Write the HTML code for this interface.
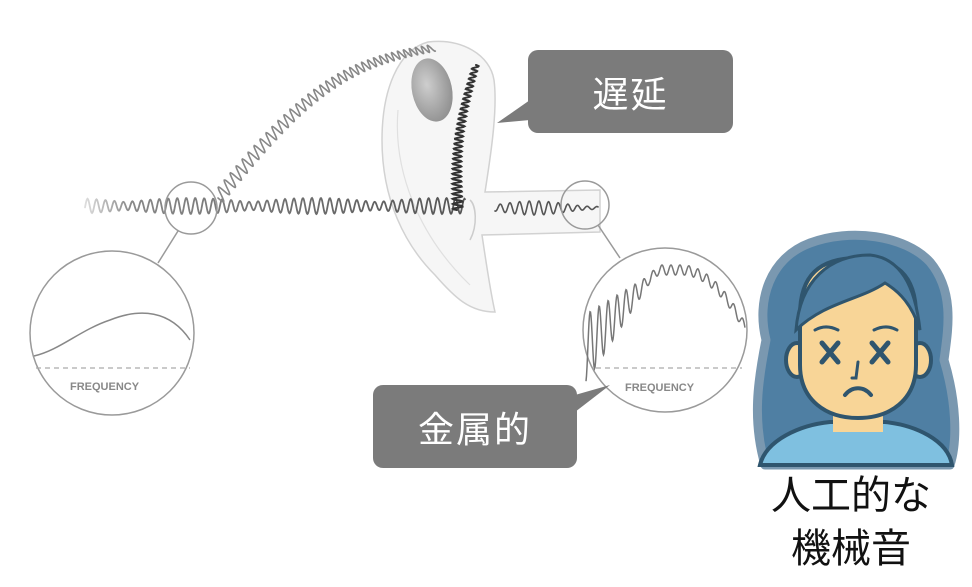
<!DOCTYPE html>
<html><head><meta charset="utf-8">
<style>
html,body{margin:0;padding:0;background:#fff;}
body{width:972px;height:587px;overflow:hidden;position:relative;font-family:"Liberation Sans","Noto Sans CJK JP",sans-serif;}
.box{position:absolute;background:#7b7b7b;border-radius:10px;color:#fff;font-size:36px;display:flex;align-items:center;justify-content:center;letter-spacing:2px;}
.cap{position:absolute;left:748px;width:206px;text-align:center;font-size:40px;color:#111;line-height:53px;}
</style></head><body>
<svg id="s" width="972" height="587" style="position:absolute;left:0;top:0">
<defs>
<linearGradient id="fade" x1="0" x2="1"><stop offset="0" stop-color="#ddd"/><stop offset="0.12" stop-color="#888"/><stop offset="1" stop-color="#555"/></linearGradient>
<radialGradient id="blob" cx="0.4" cy="0.4" r="0.7"><stop offset="0" stop-color="#c4c4c4"/><stop offset="1" stop-color="#707070"/></radialGradient>
</defs>
<!-- ear -->
<path d="M428,42 C398,50 382,90 382,140 C382,200 405,245 435,275 C455,298 470,312 495,312 C490,290 485,255 482,235 L600,232 L600,190 L485,192 C490,160 498,110 494,80 C490,55 462,38 428,42 Z" fill="#f6f6f6" stroke="#d2d2d2" stroke-width="1.5"/>
<path d="M398,110 C393,170 418,235 470,285" fill="none" stroke="#e0e0e0" stroke-width="1.2"/>
<path d="M470,200 C476,205 478,225 470,240" fill="none" stroke="#ccc" stroke-width="1.5"/>
<ellipse cx="432" cy="90" rx="20" ry="32" transform="rotate(-12 432 90)" fill="url(#blob)" opacity="0.8"/>
<g id="waves" fill="none" stroke-linecap="round"></g>
<!-- circles -->
<g fill="none" stroke="#9a9a9a" stroke-width="1.5">
<circle cx="191" cy="208" r="26"/>
<line x1="178" y1="231" x2="158" y2="263"/>
<circle cx="112" cy="333" r="82"/>
<circle cx="585" cy="205" r="24"/>
<line x1="598" y1="225" x2="620" y2="258"/>
<circle cx="665" cy="330" r="82"/>
</g>
<g stroke="#aaa" stroke-width="1.3" stroke-dasharray="5,4">
<line x1="36" y1="368" x2="190" y2="368"/>
<line x1="596" y1="368" x2="742" y2="368"/>
</g>
<path d="M34,356 C60,350 80,330 110,320 C140,308 170,310 190,340" fill="none" stroke="#888" stroke-width="1.5"/>
<path id="spec" fill="none" stroke="#777" stroke-width="1.5"/>
<text x="70" y="390" font-size="11" font-weight="bold" fill="#888" font-family="Liberation Sans">FREQUENCY</text>
<text x="625" y="391" font-size="11" font-weight="bold" fill="#888" font-family="Liberation Sans">FREQUENCY</text>
<!-- callout tails -->
<polygon points="530,100 530,120 497,123" fill="#7b7b7b"/>
<polygon points="575,395 575,412 610,385" fill="#7b7b7b"/>
<!-- face -->
<g>
<path d="M765,465 C752,420 758,380 766,340 C756,300 770,258 810,243 C850,228 905,235 930,262 C955,292 948,330 944,360 C956,400 958,440 950,465 Z" fill="#4f7fa3" stroke="#7a98b0" stroke-width="9" stroke-linejoin="round"/>
<path d="M760,465 C766,440 800,425 830,422 L885,422 C915,425 948,440 952,465 Z" fill="#7fc0e0" stroke="#2f556e" stroke-width="4"/>
<rect x="833" y="400" width="50" height="32" fill="#f8d597"/>
<ellipse cx="797" cy="360" rx="11" ry="17" fill="#f8d597" stroke="#2f556e" stroke-width="4"/>
<ellipse cx="920" cy="360" rx="11" ry="17" fill="#f8d597" stroke="#2f556e" stroke-width="4"/>
<path d="M800,315 C800,275 820,258 858,258 C896,258 916,275 916,315 L916,365 C916,400 890,418 858,418 C826,418 800,400 800,365 Z" fill="#f8d597" stroke="#2f556e" stroke-width="4"/>
<path d="M796,330 C800,280 830,255 870,255 C900,258 915,285 920,330 C912,305 900,292 885,283 C860,300 825,302 796,330 Z" fill="#4f7fa3" stroke="#2f556e" stroke-width="3"/>
<g stroke="#2f556e" stroke-width="5" stroke-linecap="round" fill="none">
<line x1="822" y1="343" x2="838" y2="362"/><line x1="838" y1="343" x2="822" y2="362"/>
<line x1="872" y1="343" x2="888" y2="362"/><line x1="888" y1="343" x2="872" y2="362"/>
<path d="M858,362 L856,378 L852,378" stroke-width="3"/>
<path d="M845,395 C852,386 864,386 871,395" stroke-width="4"/>
<path d="M815,330 C822,326 830,326 838,330" stroke-width="3"/>
<path d="M874,330 C882,326 890,326 897,330" stroke-width="3"/>
</g>
</g>
</svg>
<div class="box" style="left:528px;top:50px;width:205px;height:83px;">遅延</div>
<div class="box" style="left:373px;top:385px;width:204px;height:83px;">金属的</div>
<div class="cap" style="top:470px;">人工的な<br>機械音</div>
<script>
var g=document.getElementById('waves');
function add(d,c,w){var p=document.createElementNS('http://www.w3.org/2000/svg','path');p.setAttribute('d',d);p.setAttribute('stroke',c);p.setAttribute('stroke-width',w);g.appendChild(p);}
var d='';for(var x=85;x<=465;x+=0.5){var a=4+4*Math.abs(Math.sin(x*0.025));var y=206+a*Math.sin(x*0.7);d+=(x==85?'M':'L')+x+','+y.toFixed(1);}
add(d,'url(#fade)',1.8);
d='';var N=600;for(var i=0;i<=N;i++){var t=i/N;var bx=218+t*215;var by=198-150*t-35*Math.sin(t*Math.PI);var amp=7-3*t;var ph=i*0.38;var nx=0.6,ny=0.8;d+=(i?'L':'M')+(bx+nx*amp*Math.sin(ph)).toFixed(1)+','+(by+ny*amp*Math.sin(ph)).toFixed(1);}
add(d,'#888',1.6);
d='';for(var i=0;i<=260;i++){var t=i/260;var by=65+t*145;var bx=476-18*t-8*Math.sin(t*Math.PI);var amp=3+2*t;bx+=amp*Math.sin(i*0.7);d+=(i?'L':'M')+bx.toFixed(1)+','+by.toFixed(1);}
add(d,'#333',2);
d='';for(var x=495;x<=598;x+=0.5){var y=208+7*Math.sin(x*0.65)*(0.6+0.4*Math.sin(x*0.05));d+=(x==495?'M':'L')+x+','+y.toFixed(1);}
add(d,'#555',1.6);
d='';for(var x=586;x<=745;x+=0.5){var t=(x-586)/159;var base=348-78*Math.min(1,t*2.2)+(t>0.6?60*(t-0.6)*(t-0.6)*6:0);var amp=t<0.4?(30*(1-t/0.4)+4):5;var y=base+amp*Math.sin(x*0.7);d+=(x==586?'M':'L')+x+','+y.toFixed(1);}
document.getElementById('spec').setAttribute('d',d);
</script>
</body></html>
